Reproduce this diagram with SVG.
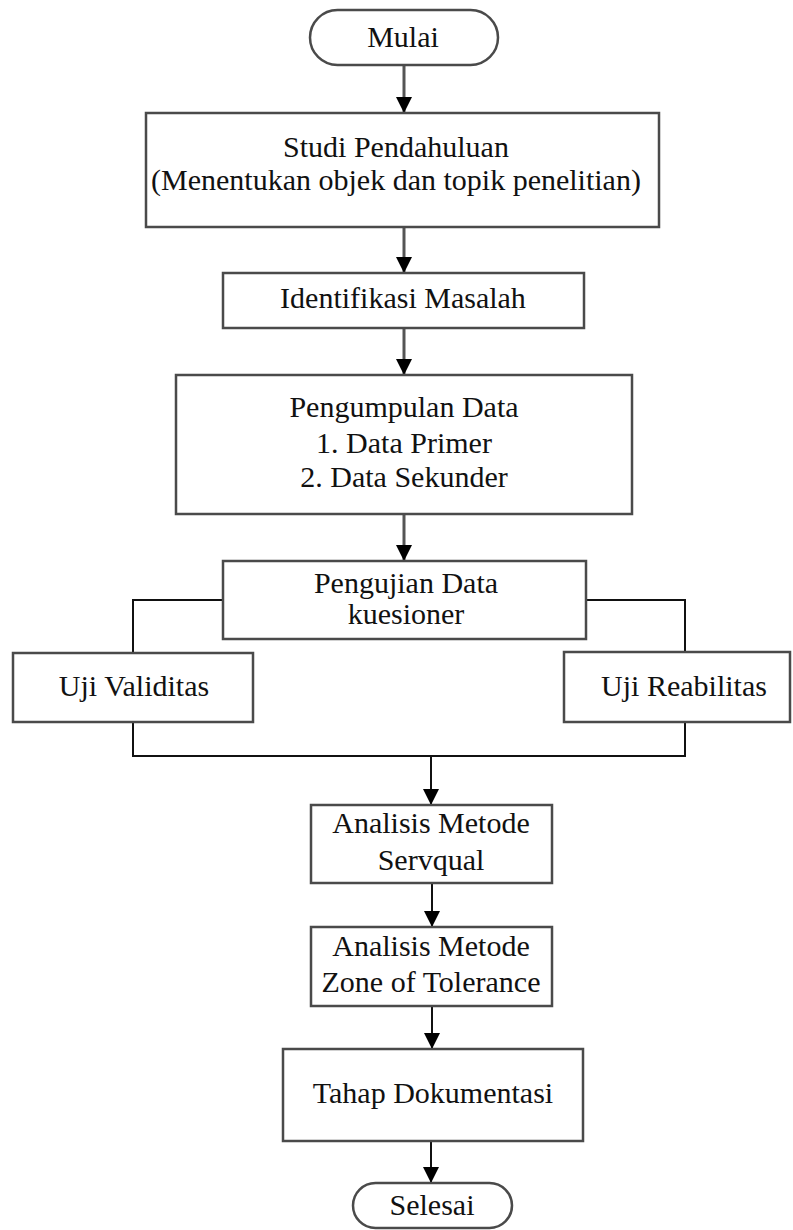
<svg xmlns="http://www.w3.org/2000/svg" width="793" height="1230" viewBox="0 0 793 1230">
<style>
.box{fill:#fff;stroke:#4a4a4a;stroke-width:2.5}
.t{font-family:"Liberation Serif","Times New Roman",serif;font-size:30px;fill:#111;text-anchor:middle}
.c1{fill:none;stroke:#555;stroke-width:3}
.c2{fill:none;stroke:#111;stroke-width:2}
</style>
<defs>
<marker id="ah" viewBox="0 0 16 16" refX="16" refY="8" markerWidth="16" markerHeight="16" markerUnits="userSpaceOnUse" orient="auto">
<path d="M0,0 L16,8 L0,16 z" fill="#000"/>
</marker>
</defs>
<rect width="793" height="1230" fill="#fff"/>
<g id="connectors">
<line class="c1" x1="404" y1="65" x2="404" y2="113" marker-end="url(#ah)"/>
<line class="c1" x1="404" y1="227" x2="404" y2="273" marker-end="url(#ah)"/>
<line class="c1" x1="404" y1="328" x2="404" y2="375" marker-end="url(#ah)"/>
<line class="c1" x1="404" y1="514" x2="404" y2="561" marker-end="url(#ah)"/>
<polyline class="c2" points="223,600 133,600 133,653"/>
<polyline class="c2" points="586,600 685,600 685,652"/>
<polyline class="c2" points="133,722 133,756 685,756 685,722"/>
<line class="c2" x1="431" y1="756" x2="431" y2="805" marker-end="url(#ah)"/>
<line class="c2" x1="432" y1="883" x2="432" y2="927" marker-end="url(#ah)"/>
<line class="c2" x1="432" y1="1006" x2="432" y2="1049" marker-end="url(#ah)"/>
<line class="c2" x1="431" y1="1141" x2="431" y2="1183" marker-end="url(#ah)"/>
</g>
<g id="mulai">
<rect class="box" x="310" y="10" width="188" height="55" rx="27.5"/>
<text class="t" x="403" y="47">Mulai</text>
</g>
<g id="studi">
<rect class="box" x="146" y="113" width="513" height="114"/>
<text class="t" x="396" y="157">Studi Pendahuluan</text>
<text class="t" x="396" y="190">(Menentukan objek dan topik penelitian)</text>
</g>
<g id="identifikasi">
<rect class="box" x="223" y="273" width="361" height="55"/>
<text class="t" x="403" y="308">Identifikasi Masalah</text>
</g>
<g id="pengumpulan">
<rect class="box" x="176" y="375" width="456" height="139"/>
<text class="t" x="404" y="417">Pengumpulan Data</text>
<text class="t" x="404" y="453">1. Data Primer</text>
<text class="t" x="404" y="487">2. Data Sekunder</text>
</g>
<g id="pengujian">
<rect class="box" x="223" y="561" width="363" height="78"/>
<text class="t" x="406" y="593">Pengujian Data</text>
<text class="t" x="406" y="624">kuesioner</text>
</g>
<g id="validitas">
<rect class="box" x="13" y="653" width="240" height="69"/>
<text class="t" x="134" y="696">Uji Validitas</text>
</g>
<g id="reabilitas">
<rect class="box" x="564" y="652" width="226" height="70"/>
<text class="t" x="684" y="696">Uji Reabilitas</text>
</g>
<g id="servqual">
<rect class="box" x="311" y="805" width="241" height="78"/>
<text class="t" x="431" y="833">Analisis Metode</text>
<text class="t" x="431" y="870">Servqual</text>
</g>
<g id="zot">
<rect class="box" x="311" y="927" width="241" height="79"/>
<text class="t" x="431" y="956">Analisis Metode</text>
<text class="t" x="431" y="992">Zone of Tolerance</text>
</g>
<g id="tahap">
<rect class="box" x="283" y="1049" width="300" height="92"/>
<text class="t" x="433" y="1103">Tahap Dokumentasi</text>
</g>
<g id="selesai">
<rect class="box" x="353" y="1183" width="159" height="45" rx="22.5"/>
<text class="t" x="432" y="1215">Selesai</text>
</g>
</svg>
